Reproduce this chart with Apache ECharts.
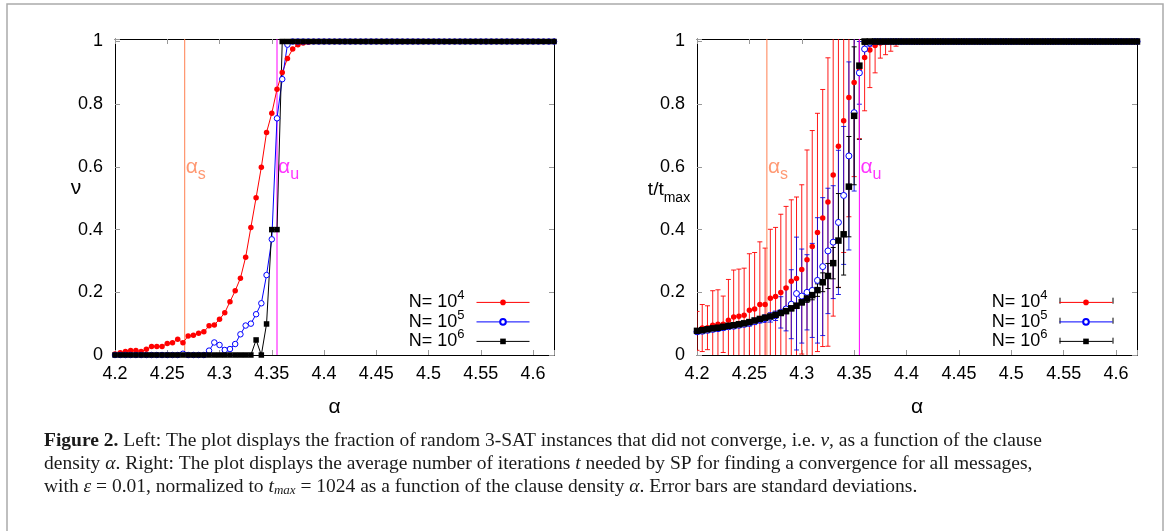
<!DOCTYPE html>
<html>
<head>
<meta charset="utf-8">
<title>Figure 2</title>
<script src="https://cdn.jsdelivr.net/npm/echarts@6/dist/echarts.min.js"></script>
<style>
  html, body { margin: 0; padding: 0; background: #fff; }
  #main { width: 1170px; height: 531px; }
</style>
</head>
<body>
<div id="main"></div>
<script>
// clause density alpha (x values, shared by both panels)
const alphas = [
  4.2, 4.205, 4.21, 4.215, 4.22, 4.225, 4.23, 4.235, 4.24, 4.245,
  4.25, 4.255, 4.26, 4.265, 4.27, 4.275, 4.28, 4.285, 4.29, 4.295,
  4.3, 4.305, 4.31, 4.315, 4.32, 4.325, 4.33, 4.335, 4.34, 4.345,
  4.35, 4.355, 4.36, 4.365, 4.37, 4.375, 4.38, 4.385, 4.39, 4.395,
  4.4, 4.405, 4.41, 4.415, 4.42, 4.425, 4.43, 4.435, 4.44, 4.445,
  4.45, 4.455, 4.46, 4.465, 4.47, 4.475, 4.48, 4.485, 4.49, 4.495,
  4.5, 4.505, 4.51, 4.515, 4.52, 4.525, 4.53, 4.535, 4.54, 4.545,
  4.55, 4.555, 4.56, 4.565, 4.57, 4.575, 4.58, 4.585, 4.59, 4.595,
  4.6, 4.605, 4.61, 4.615, 4.62
];

// left panel: fraction of non converged instances (nu)
const nuN4 = [
  0.003, 0.007, 0.011, 0.014, 0.014, 0.011, 0.018, 0.027, 0.027, 0.027,
  0.037, 0.039, 0.05, 0.039, 0.061, 0.063, 0.069, 0.074, 0.093, 0.096,
  0.114, 0.135, 0.17, 0.205, 0.245, 0.312, 0.407, 0.502, 0.599, 0.71,
  0.771, 0.848, 0.901, 0.946, 0.976, 0.99, 0.995, 0.998, 1, 1,
  1, 1, 1, 1, 1, 1, 1, 1, 1, 1,
  1, 1, 1, 1, 1, 1, 1, 1, 1, 1,
  1, 1, 1, 1, 1, 1, 1, 1, 1, 1,
  1, 1, 1, 1, 1, 1, 1, 1, 1, 1,
  1, 1, 1, 1, 1
];
const nuN5 = [
  0, 0, 0, 0, 0, 0, 0, 0, 0, 0,
  0, 0, 0, 0.004, 0, 0, 0, 0, 0.014, 0.04,
  0.032, 0.016, 0.019, 0.035, 0.066, 0.094, 0.1, 0.13, 0.165, 0.255,
  0.369, 0.755, 0.88, 0.99, 1, 1, 1, 1, 1, 1,
  1, 1, 1, 1, 1, 1, 1, 1, 1, 1,
  1, 1, 1, 1, 1, 1, 1, 1, 1, 1,
  1, 1, 1, 1, 1, 1, 1, 1, 1, 1,
  1, 1, 1, 1, 1, 1, 1, 1, 1, 1,
  1, 1, 1, 1, 1
];
const nuN6 = [
  0, 0, 0, 0, 0, 0, 0, 0, 0, 0,
  0, 0, 0, 0, 0, 0, 0, 0, 0, 0,
  0, 0, 0, 0, 0, 0, 0, 0.048, 0, 0.099,
  0.4, 0.4, 1, 1, 1, 1, 1, 1, 1, 1,
  1, 1, 1, 1, 1, 1, 1, 1, 1, 1,
  1, 1, 1, 1, 1, 1, 1, 1, 1, 1,
  1, 1, 1, 1, 1, 1, 1, 1, 1, 1,
  1, 1, 1, 1, 1, 1, 1, 1, 1, 1,
  1, 1, 1, 1, 1
];

// right panel: t / t_max, means and standard deviations
const tN4 = [
  0.077, 0.086, 0.087, 0.095, 0.098, 0.098, 0.111, 0.121, 0.124, 0.127,
  0.143, 0.147, 0.161, 0.161, 0.181, 0.187, 0.199, 0.214, 0.235, 0.244,
  0.273, 0.304, 0.346, 0.391, 0.437, 0.488, 0.574, 0.666, 0.747, 0.821,
  0.869, 0.91, 0.949, 0.973, 0.987, 0.995, 0.998, 0.999, 1, 1,
  1, 1, 1, 1, 1, 1, 1, 1, 1, 1,
  1, 1, 1, 1, 1, 1, 1, 1, 1, 1,
  1, 1, 1, 1, 1, 1, 1, 1, 1, 1,
  1, 1, 1, 1, 1, 1, 1, 1, 1, 1,
  1, 1, 1, 1, 1
];
const tN4Err = [
  0.062, 0.075, 0.07, 0.11, 0.11, 0.09, 0.13, 0.15, 0.15, 0.15,
  0.18, 0.18, 0.2, 0.18, 0.22, 0.22, 0.25, 0.26, 0.26, 0.26,
  0.27, 0.35, 0.37, 0.38, 0.41, 0.46, 0.45, 0.45, 0.42, 0.38,
  0.3, 0.22, 0.17, 0.12, 0.087, 0.048, 0.04, 0.03, 0.015, 0,
  0, 0, 0, 0, 0, 0, 0, 0, 0, 0,
  0, 0, 0, 0, 0, 0, 0, 0, 0, 0,
  0, 0, 0, 0, 0, 0, 0, 0, 0, 0,
  0, 0, 0, 0, 0, 0, 0, 0, 0, 0,
  0, 0, 0, 0, 0
];
const tN5 = [
  0.074, 0.076, 0.079, 0.082, 0.084, 0.087, 0.09, 0.092, 0.095, 0.098,
  0.102, 0.107, 0.112, 0.116, 0.12, 0.125, 0.136, 0.147, 0.162, 0.196,
  0.188, 0.2, 0.206, 0.238, 0.282, 0.332, 0.36, 0.423, 0.509, 0.635,
  0.773, 0.9, 0.976, 0.995, 1, 1, 1, 1, 1, 1,
  1, 1, 1, 1, 1, 1, 1, 1, 1, 1,
  1, 1, 1, 1, 1, 1, 1, 1, 1, 1,
  1, 1, 1, 1, 1, 1, 1, 1, 1, 1,
  1, 1, 1, 1, 1, 1, 1, 1, 1, 1,
  1, 1, 1, 1, 1
];
const tN5Err = [
  0.008, 0.008, 0.008, 0.008, 0.008, 0.008, 0.008, 0.008, 0.008, 0.008,
  0.01, 0.01, 0.01, 0.012, 0.015, 0.015, 0.05, 0.07, 0.11, 0.18,
  0.15, 0.12, 0.15, 0.2, 0.22, 0.2, 0.18, 0.23, 0.22, 0.3,
  0.25, 0.1, 0.03, 0.01, 0, 0, 0, 0, 0, 0,
  0, 0, 0, 0, 0, 0, 0, 0, 0, 0,
  0, 0, 0, 0, 0, 0, 0, 0, 0, 0,
  0, 0, 0, 0, 0, 0, 0, 0, 0, 0,
  0, 0, 0, 0, 0, 0, 0, 0, 0, 0,
  0, 0, 0, 0, 0
];
const tN6 = [
  0.077, 0.079, 0.082, 0.085, 0.087, 0.09, 0.093, 0.095, 0.098, 0.101,
  0.105, 0.11, 0.115, 0.119, 0.123, 0.128, 0.134, 0.14, 0.149, 0.157,
  0.168, 0.18, 0.191, 0.207, 0.232, 0.252, 0.293, 0.365, 0.385, 0.537,
  0.763, 0.923, 1, 1, 1, 1, 1, 1, 1, 1,
  1, 1, 1, 1, 1, 1, 1, 1, 1, 1,
  1, 1, 1, 1, 1, 1, 1, 1, 1, 1,
  1, 1, 1, 1, 1, 1, 1, 1, 1, 1,
  1, 1, 1, 1, 1, 1, 1, 1, 1, 1,
  1, 1, 1, 1, 1
];
const tN6Err = [
  0.004, 0.004, 0.004, 0.004, 0.004, 0.004, 0.004, 0.004, 0.004, 0.004,
  0.004, 0.004, 0.004, 0.004, 0.004, 0.004, 0.008, 0.008, 0.008, 0.008,
  0.008, 0.012, 0.015, 0.02, 0.03, 0.04, 0.05, 0.15, 0.13, 0.16,
  0.22, 0.235, 0.01, 0, 0, 0, 0, 0, 0, 0,
  0, 0, 0, 0, 0, 0, 0, 0, 0, 0,
  0, 0, 0, 0, 0, 0, 0, 0, 0, 0,
  0, 0, 0, 0, 0, 0, 0, 0, 0, 0,
  0, 0, 0, 0, 0, 0, 0, 0, 0, 0,
  0, 0, 0, 0, 0
];

// thresholds drawn as vertical lines, label height in data units
const alphaS = 4.2667;
const alphaU = 4.355;
const thresholdLabelY = 0.6;

const Y_MAX = 1.008;
const SANS = "'Liberation Sans', Arial, sans-serif";
const SERIF = "'Liberation Serif', 'Times New Roman', serif";
const RED = "#ff0000";
const BLUE = "#0000ff";
const BLACK = "#000000";
const CORAL = "#ff7f50";
const MAGENTA = "#ff00ff";

function pairs(values) {
  return alphas.map((a, i) => [a, values[i]]);
}
function triples(values, errs) {
  return alphas.map((a, i) => [a, values[i], errs[i]]);
}

const xLabelFmt = (v) => {
  const k = v * 20;
  return Math.abs(k - Math.round(k)) < 1e-6 ? String(+v.toFixed(2)) : "";
};
const yLabelFmt = (v) => {
  const k = v * 5;
  return Math.abs(k - Math.round(k)) < 1e-6 ? String(+v.toFixed(1)) : "";
};

const tickStyle = { inside: true, length: 5, lineStyle: { color: "#999", width: 1 } };

function xAxes(grid) {
  const frame = { show: true, onZero: false, lineStyle: { color: "#000", width: 1 } };
  return [
    {
      type: "value", gridIndex: grid, position: "bottom",
      min: 4.2, max: 4.62, interval: 0.05,
      name: "α", nameLocation: "middle", nameGap: 42,
      nameTextStyle: { fontFamily: SANS, fontSize: 21, color: "#000" },
      axisLine: frame, axisTick: tickStyle,
      axisLabel: { margin: 10, fontFamily: SANS, fontSize: 18, color: "#000", formatter: xLabelFmt },
      splitLine: { show: false },
    },
    {
      type: "value", gridIndex: grid, position: "top",
      min: 4.2, max: 4.62, interval: 0.05,
      axisLine: frame, axisTick: tickStyle,
      axisLabel: { show: false }, splitLine: { show: false },
    },
  ];
}

function yAxes(grid) {
  const frame = { show: true, onZero: false, lineStyle: { color: "#000", width: 1 } };
  return [
    {
      type: "value", gridIndex: grid, position: "left",
      min: 0, max: Y_MAX, interval: 0.2,
      axisLine: frame, axisTick: tickStyle,
      axisLabel: { margin: 12, fontFamily: SANS, fontSize: 18, color: "#000", formatter: yLabelFmt },
      splitLine: { show: false },
    },
    {
      type: "value", gridIndex: grid, position: "right",
      min: 0, max: Y_MAX, interval: 0.2,
      axisLine: frame, axisTick: tickStyle,
      axisLabel: { show: false }, splitLine: { show: false },
    },
  ];
}

function thresholdSeries(grid) {
  const axes = { xAxisIndex: grid * 2, yAxisIndex: grid * 2 };
  const vline = (name, a, color) => Object.assign({
    type: "line", name: name, data: [[a, 0], [a, Y_MAX]],
    symbol: "none", silent: true, animation: false,
    lineStyle: { color: color, width: 1 },
  }, axes);
  const tag = (name, a, color, sub) => Object.assign({
    type: "scatter", name: name, data: [[a, thresholdLabelY]],
    symbolSize: 0, silent: true, animation: false,
    label: {
      show: true, position: "right", distance: 1,
      formatter: "{a|α}{s|" + sub + "}",
      rich: {
        a: { fontFamily: SANS, fontSize: 21, lineHeight: 32, color: color },
        s: { fontFamily: SANS, fontSize: 16, verticalAlign: "bottom", color: color },
      },
    },
  }, axes);
  return [
    vline("lineS" + grid, alphaS, CORAL),
    vline("lineU" + grid, alphaU, MAGENTA),
    tag("tagS" + grid, alphaS, CORAL, "s"),
    tag("tagU" + grid, alphaU, MAGENTA, "u"),
  ];
}

function lineSeries(name, values, grid, color, symbol, size, lineWidth) {
  const open = symbol === "open";
  return {
    type: "line", name: name,
    xAxisIndex: grid * 2, yAxisIndex: grid * 2,
    data: pairs(values),
    showSymbol: true, showAllSymbol: true,
    symbol: open ? "circle" : symbol, symbolSize: size,
    lineStyle: { color: color, width: lineWidth },
    itemStyle: open
      ? { color: "#fff", borderColor: color, borderWidth: 1 }
      : { color: color, borderWidth: 0 },
    emphasis: { disabled: true },
    animation: false,
  };
}

function errorBars(name, values, errs, grid, color) {
  return {
    type: "custom", name: name,
    xAxisIndex: grid * 2, yAxisIndex: grid * 2,
    data: triples(values, errs),
    encode: { x: 0, y: 1 },
    clip: true, silent: true, animation: false,
    renderItem: (params, api) => {
      const a = api.value(0), v = api.value(1), e = api.value(2);
      if (!(e > 0)) return null;
      const lo = v - e, hi = v + e;
      const pLo = api.coord([a, Math.max(lo, 0)]);
      const pHi = api.coord([a, Math.min(hi, Y_MAX)]);
      const st = { stroke: color, lineWidth: 1 };
      const kids = [{ type: "line", shape: { x1: pLo[0], y1: pLo[1], x2: pHi[0], y2: pHi[1] }, style: st }];
      if (lo >= 0) kids.push({ type: "line", shape: { x1: pLo[0] - 2.5, y1: pLo[1], x2: pLo[0] + 2.5, y2: pLo[1] }, style: st });
      if (hi <= Y_MAX) kids.push({ type: "line", shape: { x1: pHi[0] - 2.5, y1: pHi[1], x2: pHi[0] + 2.5, y2: pHi[1] }, style: st });
      return { type: "group", children: kids };
    },
  };
}

const legendNames = { nu4: 4, nu5: 5, nu6: 6, t4: 4, t5: 5, t6: 6 };
const legendRich = {
  b: { fontFamily: SANS, fontSize: 18, lineHeight: 26, color: "#000" },
  sup: { fontFamily: SANS, fontSize: 13, verticalAlign: "top", color: "#000", padding: [0, 7, 0, 0] },
};
function legendBox(names, right) {
  return {
    data: names, orient: "vertical", right: right, top: 289.4,
    align: "right", itemWidth: 53, itemHeight: 7, itemGap: -2.5, padding: 0,
    selectedMode: false,
    formatter: (n) => "{b|N= 10}{sup|" + legendNames[n] + "}",
    textStyle: { rich: legendRich },
    lineStyle: { width: 1 },
  };
}

const CAP_FONT = 19.5;
const captionRich = {
  r: { fontFamily: SERIF, fontSize: CAP_FONT, color: "#1a1a1a" },
  b: { fontFamily: SERIF, fontSize: CAP_FONT, fontWeight: "bold", color: "#1a1a1a" },
  i: { fontFamily: SERIF, fontSize: CAP_FONT, fontStyle: "italic", color: "#1a1a1a" },
  sub: { fontFamily: SERIF, fontSize: 13, fontStyle: "italic", color: "#1a1a1a", verticalAlign: "bottom", lineHeight: 9 },
};
function captionLine(text, y) {
  return {
    type: "text", silent: true,
    style: {
      x: 44, y: y, text: text, rich: captionRich,
      fontFamily: SERIF, fontSize: CAP_FONT, fill: "#1a1a1a",
      align: "left", verticalAlign: "middle", textAlign: "left", textVerticalAlign: "middle",
    },
  };
}

function capMarks(x1, x2, ys) {
  const out = [];
  ys.forEach((y) => {
    [x1, x2].forEach((x) => {
      out.push({ type: "line", silent: true, shape: { x1: x, y1: y - 3, x2: x, y2: y + 3 }, style: { stroke: "#000", lineWidth: 1 } });
    });
  });
  return out;
}

const option = {
  backgroundColor: "#fff",
  animation: false,
  grid: [
    { left: 115, top: 39, width: 439, height: 316 },
    { left: 697, top: 39, width: 440, height: 316 },
  ],
  xAxis: xAxes(0).concat(xAxes(1)),
  yAxis: yAxes(0).concat(yAxes(1)),
  legend: [legendBox(["nu4", "nu5", "nu6"], 640), legendBox(["t4", "t5", "t6"], 57)],
  series: thresholdSeries(0).concat([
    lineSeries("nu4", nuN4, 0, RED, "circle", 5.5, 1),
    lineSeries("nu5", nuN5, 0, BLUE, "open", 5.5, 1),
    lineSeries("nu6", nuN6, 0, BLACK, "rect", 5.5, 1),
  ], thresholdSeries(1), [
    errorBars("t4err", tN4, tN4Err, 1, "rgba(255,0,0,0.9)"),
    lineSeries("t4", tN4, 1, RED, "circle", 5.5, 0),
    errorBars("t5err", tN5, tN5Err, 1, "rgba(0,0,230,0.85)"),
    lineSeries("t5", tN5, 1, BLUE, "open", 6, 0),
    errorBars("t6err", tN6, tN6Err, 1, BLACK),
    lineSeries("t6", tN6, 1, BLACK, "rect", 6.5, 0),
  ]),
  graphic: [
    { type: "rect", silent: true, shape: { x: 7, y: 4, width: 1156, height: 545 }, style: { fill: "none", stroke: "#aaa", lineWidth: 1.5 } },
    {
      type: "text", silent: true,
      style: { x: 76, y: 188, text: "ν", fontFamily: SANS, fontSize: 21, fill: "#000", align: "center", verticalAlign: "middle", textAlign: "center", textVerticalAlign: "middle" },
    },
    {
      type: "text", silent: true,
      style: {
        x: 669, y: 190, text: "{a|t/t}{s|max}",
        rich: {
          a: { fontFamily: SANS, fontSize: 19, lineHeight: 30, fill: "#000", color: "#000" },
          s: { fontFamily: SANS, fontSize: 14, verticalAlign: "bottom", fill: "#000", color: "#000" },
        },
        fontFamily: SANS, fontSize: 19, fill: "#000",
        align: "center", verticalAlign: "middle", textAlign: "center", textVerticalAlign: "middle",
      },
    },
    captionLine("{b|Figure 2.}{r| Left: The plot displays the fraction of random 3-SAT instances that did not converge, i.e. }{i|ν}{r|, as a function of the clause}", 441),
    captionLine("{r|density }{i|α}{r|. Right: The plot displays the average number of iterations }{i|t}{r| needed by SP for finding a convergence for all messages,}", 464),
    captionLine("{r|with }{i|ε}{r| = 0.01, normalized to }{i|t}{sub|max}{r| = 1024 as a function of the clause density }{i|α}{r|. Error bars are standard deviations.}", 487),
  ].concat(capMarks(1060, 1113, [300.7, 320.7, 340.7])),
};

const chart = echarts.init(document.getElementById("main"), null, { renderer: "canvas" });
chart.setOption(option);
window.addEventListener("resize", () => chart.resize());
</script>
</body>
</html>
